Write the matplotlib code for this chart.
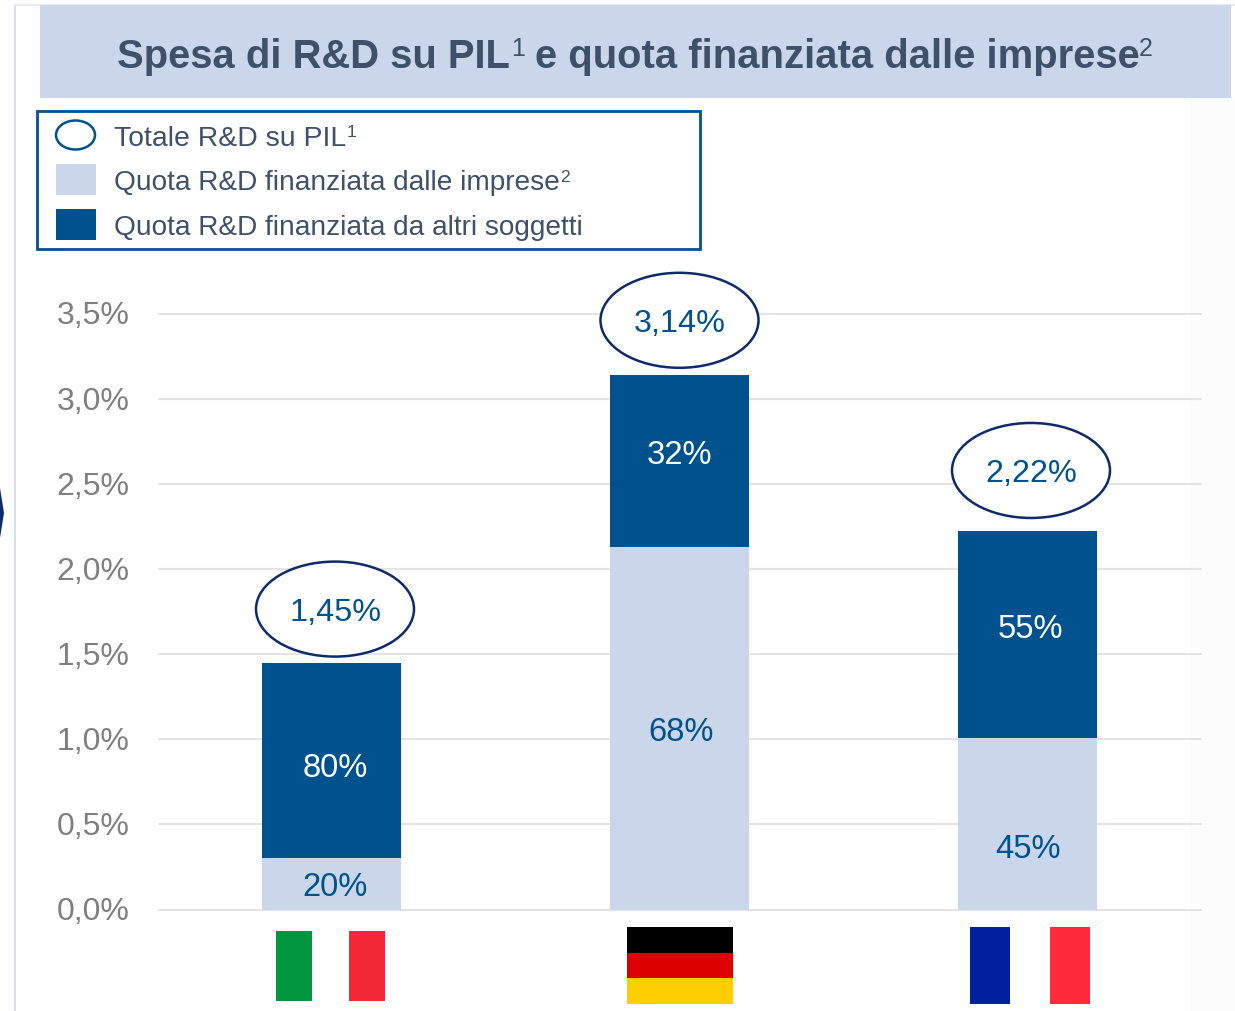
import matplotlib
matplotlib.use("Agg")
import matplotlib.pyplot as plt
from matplotlib.patches import Ellipse, Rectangle, Polygon
from matplotlib.transforms import ScaledTranslation

plt.rcParams["font.family"] = ["Liberation Sans", "DejaVu Sans"]

LIGHT = "#CAD6E9"
DARK = "#00528F"
NAVY = "#0E2A6A"
SLATE = "#3F5169"

COUNTRIES = ["Italia", "Germania", "Francia"]
TOTALS = [1.45, 3.14, 2.22]
TOTAL_LABELS = ["1,45%", "3,14%", "2,22%"]
IMPRESE = [0.30, 2.13, 1.01]
ALTRI = [1.15, 1.01, 1.21]
IMPRESE_LABELS = ["20%", "68%", "45%"]
ALTRI_LABELS = ["80%", "32%", "55%"]
Y_TICKS = [0.0, 0.5, 1.0, 1.5, 2.0, 2.5, 3.0, 3.5]
Y_LABELS = ["0,0%", "0,5%", "1,0%", "1,5%", "2,0%", "2,5%", "3,0%", "3,5%"]

W, H = 1235, 1012


def pixel_axes(fig, zorder):
    ax = fig.add_axes([0, 0, 1, 1], zorder=zorder)
    ax.set_xlim(0, W)
    ax.set_ylim(H - 1, -1)
    ax.axis("off")
    return ax


def main():
    fig = plt.figure(figsize=(W / 100, H / 100), dpi=100)

    bg = pixel_axes(fig, 0)
    bg.add_patch(Rectangle((1190, 98), 45, H - 98, color="#FCFCFC", lw=0))
    bg.add_patch(Rectangle((14, 5), 2, H, color="#D5E0F2", lw=0))
    bg.add_patch(Rectangle((14, 4), W, 2, color="#E6EBF3", lw=0))
    bg.add_patch(Polygon([(0, 488), (4, 513), (0, 538)], color=NAVY, lw=0))
    bg.add_patch(Rectangle((40, 5), 1191, 93, color=LIGHT, lw=0))

    bg.text(117, 52, "Spesa di R&D su PIL", fontsize=28.8, fontweight="bold",
            color=SLATE, va="center_baseline")
    bg.text(511, 45.5, "1", fontsize=18, color=SLATE, va="center_baseline")
    bg.text(535, 52, "e quota finanziata dalle imprese", fontsize=28.8, fontweight="bold",
            color=SLATE, va="center_baseline")
    bg.text(1139, 45.5, "2", fontsize=18, color=SLATE, va="center_baseline")

    # legend box
    bg.add_patch(Rectangle((36.5, 110.5), 663, 138, fc="white", ec=DARK, lw=2))
    bg.add_patch(Ellipse((75.5, 135), 39, 29, fc="white", ec=DARK, lw=1.8))
    bg.add_patch(Rectangle((56, 164), 40, 31, color=LIGHT, lw=0))
    bg.add_patch(Rectangle((56, 209), 40, 31, color=DARK, lw=0))
    bg.text(114, 135, "Totale R&D su PIL", fontsize=20.4, color=SLATE, va="center_baseline")
    bg.text(347, 130, "1", fontsize=12.5, color=SLATE, va="center_baseline")
    bg.text(114, 179, "Quota R&D finanziata dalle imprese", fontsize=20.2, color=SLATE, va="center_baseline")
    bg.text(560, 175, "2", fontsize=12.5, color=SLATE, va="center_baseline")
    bg.text(114, 224, "Quota R&D finanziata da altri soggetti", fontsize=20.2, color=SLATE, va="center_baseline")

    # chart
    left, right, top, bottom = 157.5, 1201.5, 314, 910
    ax = fig.add_axes([left / W, 1 - (bottom + 0.5) / H, (right - left) / W, (bottom - top) / H], zorder=1)
    ax.patch.set_alpha(0)
    x = list(range(len(COUNTRIES)))
    ax.bar(x, IMPRESE, width=0.4, color=LIGHT, zorder=2)
    ax.bar(x, ALTRI, width=0.4, bottom=IMPRESE, color=DARK, zorder=2)
    ax.set_xlim(-0.5, 2.5)
    ax.set_ylim(0, 3.5)
    ax.set_yticks(Y_TICKS, Y_LABELS)
    ax.set_xticks([])
    ax.tick_params(axis="y", length=0, pad=20, labelsize=23, labelcolor="#7F7F7F")
    ax.grid(axis="y", color="#E3E3E3", lw=1.5, zorder=0)
    ax.set_axisbelow(True)
    for spine in ax.spines.values():
        spine.set_visible(False)
    for line in ax.get_ygridlines():
        line.set_clip_on(False)
        line.set_solid_capstyle("butt")
    up = ScaledTranslation(0, 1.5 / 100, fig.dpi_scale_trans)
    for label in ax.get_yticklabels():
        label.set_transform(label.get_transform() + up)

    # labels are not centred in the segments in the original
    imprese_nudge = [(3.5, -3), (1.5, -3), (0.5, -25)]
    altri_nudge = [(3.5, -7), (0, 6), (3, 6)]
    for i in x:
        ax.annotate(IMPRESE_LABELS[i], (i, IMPRESE[i] / 2), xytext=imprese_nudge[i],
                    textcoords="offset pixels", ha="center", va="center",
                    fontsize=23.6, color=DARK, zorder=3)
        ax.annotate(ALTRI_LABELS[i], (i, IMPRESE[i] + ALTRI[i] / 2), xytext=altri_nudge[i],
                    textcoords="offset pixels", ha="center", va="center",
                    fontsize=23.6, color="white", zorder=3)

    # total bubbles
    over = pixel_axes(fig, 2)
    bubble_x = [335, 679.5, 1031]
    bubble_gap = [54, 55, 61.5]
    for bx, gap, total, label in zip(bubble_x, bubble_gap, TOTALS, TOTAL_LABELS):
        by = bottom - total * (bottom - top) / 3.5 - gap
        over.add_patch(Ellipse((bx, by), 158, 95, fc="white", ec=NAVY, lw=1.8))
        over.text(bx, by + 2.5, label, ha="center", va="center", fontsize=23.3, color=DARK)

    # flags
    for k, c in enumerate(["#009640", "white", "#F32836"]):
        over.add_patch(Rectangle((276 + k * 36.4, 931), 36.4, 70, color=c, lw=0))
    for k, c in enumerate(["black", "#DD0000", "#FFCE00"]):
        over.add_patch(Rectangle((627, 927 + k * 25.7), 106, 25.7, color=c, lw=0))
    for k, c in enumerate(["#00209F", "white", "#FF2A3C"]):
        over.add_patch(Rectangle((970 + k * 40, 927), 40, 77, color=c, lw=0))

    fig.savefig("out.png", dpi=100, facecolor="white")
    plt.close(fig)


if __name__ == "__main__":
    main()
